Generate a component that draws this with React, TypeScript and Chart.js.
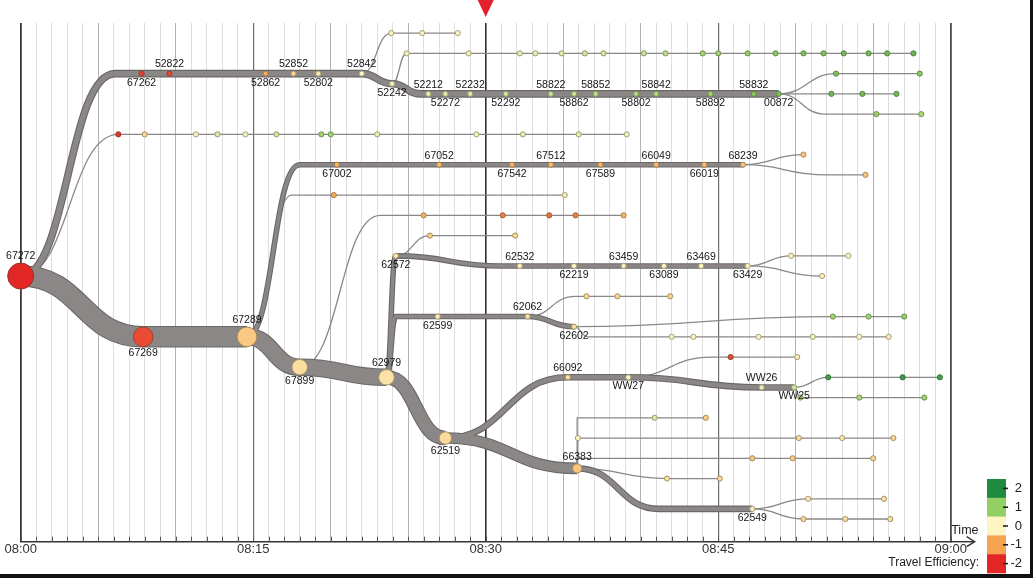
import React, { useEffect, useRef } from "react";
import { Chart, registerables } from "chart.js";

Chart.register(...registerables);

const FONT = '"Liberation Sans", Arial, Helvetica, sans-serif';

// ---------- axis / legend ----------
const TIME_TICK_LABELS = ["08:00", "08:15", "08:30", "08:45", "09:00"];
const TIME_MIN = 0; // minutes after 08:00
const TIME_MAX = 60;
const LANE_MIN = 0;
const LANE_MAX = 51.24;
const CURRENT_TIME = 30;
const AXIS_TITLE = "Time";
const LEGEND_TITLE = "Travel Efficiency:";
const EFFICIENCY_LEVELS = [2, 1, 0, -1, -2];
const EFFICIENCY_COLORS = ["#1f8b3f", "#93cf63", "#fdf5c2", "#f6a44f", "#e32727"];

// stop = [time (min after 08:00), lane, efficiency (null = bend, no stop), label]
type Stop = [number, number, number | null, string?];

const ROOT: Stop = [0, 25, -2, "67272"];

// ---------- main trunk ----------
const TRUNK_1: Stop[] = [[0, 25, null], [7.9, 31, -1.7, "67269"], [14.6, 31, -0.55, "67289"]];
const TRUNK_2: Stop[] = [[14.6, 31, null], [18.0, 34, -0.3, "67899"], [23.6, 35, -0.25, "62979"]];
const TRUNK_3: Stop[] = [[23.6, 35, null], [27.4, 41, -0.35, "62519"]];
const TRUNK_4: Stop[] = [[27.4, 41, null], [35.9, 44, -0.6, "66383"]];
const TRUNK_5: Stop[] = [[35.9, 44, null], [41.2, 48, null], [47.2, 48, -0.1, "62549"]];

// ---------- branch from 62519 (WW line) ----------
const WW_LINE: Stop[] = [[27.4, 41, null], [35.3, 35, -0.3, "66092"], [39.2, 35, 0, "WW27"], [47.8, 36, 0.2, "WW26"], [49.9, 36, 0.4, "WW25"]];
const WW25_UP: Stop[] = [[49.9, 36, null], [52.1, 35, 1.7], [56.9, 35, 1.8], [59.3, 35, 1.7]];
const WW25_FLAT: Stop[] = [[49.9, 36, null], [50.3, 37, 0.7], [54.1, 37, 0.8], [58.3, 37, 0.9]];
const WW27_UP: Stop[] = [[39.2, 35, null], [44.6, 33, null], [45.8, 33, -1.7], [50.1, 33, -0.1]];

// ---------- forks at 66383 / 62549 ----------
const FORK_A: Stop[] = [[35.9, 44, null], [35.9, 39, null], [40.9, 39, 0.3], [44.2, 39, -0.5]];
const FORK_B: Stop[] = [[35.9, 44, null], [35.95, 41, 0.0], [50.2, 41, -0.3], [53.0, 41, -0.2], [56.3, 41, -0.4]];
const FORK_C: Stop[] = [[35.9, 44, null], [35.9, 43, null], [47.2, 43, -0.6], [49.8, 43, -0.5], [55.0, 43, -0.4]];
const FORK_D: Stop[] = [[35.9, 44, null], [41.7, 45, -0.3], [45.1, 45, -0.4]];
const FORK_62549_UP: Stop[] = [[47.2, 48, null], [50.8, 47, -0.2], [55.7, 47, -0.3]];
const FORK_62549_DOWN: Stop[] = [[47.2, 48, null], [50.5, 49, -0.4], [53.2, 49, -0.3], [56.1, 49, -0.3]];

// ---------- branches from 62979 ----------
const L62572: Stop[] = [[23.6, 35, null], [24.2, 23, -0.15, "62572"], [31.0, 24, null], [32.2, 24, -0.1, "62532"], [35.7, 24, -0.05, "62219"], [38.9, 24, -0.1, "63459"], [41.5, 24, -0.05, "63089"], [43.9, 24, 0, "63469"], [46.9, 24, -0.05, "63429"]];
const P63429_UP: Stop[] = [[46.9, 24, null], [49.7, 23, -0.05], [53.4, 23, 0.05]];
const P63429_DOWN: Stop[] = [[46.9, 24, null], [51.7, 25, -0.1]];
const P62572_UP: Stop[] = [[24.2, 23, null], [26.4, 21, -0.5], [31.9, 21, -0.4]];
const L62599: Stop[] = [[23.6, 35, null], [24.2, 29, null], [26.9, 29, -0.1, "62599"], [32.7, 29, -0.25, "62062"], [35.7, 30, -0.3, "62602"]];
const P62062_UP: Stop[] = [[32.7, 29, null], [35.8, 27, null], [36.5, 27, -0.4], [38.5, 27, -0.4], [41.9, 27, -0.45]];
const P62602_A: Stop[] = [[35.7, 30, null], [52.4, 29, 0.9], [54.7, 29, 0.9], [57.0, 29, 1.0]];
const P62602_B: Stop[] = [[35.7, 30, null], [36.6, 31, null], [42.0, 31, 0.1], [43.4, 31, 0.0], [47.6, 31, 0.05], [51.1, 31, 0.1], [54.1, 31, 0.0], [56.0, 31, -0.1]];

// ---------- branches from 67899 / 67289 ----------
const P67899_UP: Stop[] = [[18.0, 34, null], [23.2, 19, null], [26.0, 19, -0.8], [31.1, 19, -1.3], [34.1, 19, -1.4], [35.8, 19, -1.3], [38.9, 19, -0.8]];
const L67002: Stop[] = [[14.6, 31, null], [18.0, 14, null], [20.4, 14, -0.8, "67002"], [27.0, 14, -0.7, "67052"], [31.7, 14, -0.8, "67542"], [34.2, 14, -0.7, "67512"], [37.4, 14, -0.8, "67589"], [41.0, 14, -0.7, "66049"], [44.1, 14, -0.7, "66019"], [46.6, 14, -0.6, "68239"]];
const P68239_UP: Stop[] = [[46.6, 14, null], [50.5, 13, -0.6]];
const P68239_DOWN: Stop[] = [[46.6, 14, null], [52.0, 15, null], [54.5, 15, -0.6]];
const P67289_THIN: Stop[] = [[14.6, 31, null], [17.5, 17, null], [20.2, 17, -0.9], [35.1, 17, -0.1]];

// ---------- branches from root ----------
const L52: Stop[] = [[0, 25, null], [6.1, 5, null], [7.8, 5, -1.8, "67262"], [9.6, 5, -1.75, "52822"], [15.8, 5, -0.9, "52862"], [17.6, 5, -0.4, "52852"], [19.2, 5, -0.15, "52802"], [22.0, 5, 0, "52842"], [23.96, 6, 0.1, "52242"], [25.8, 7, null], [26.3, 7, 0.2, "52212"], [27.4, 7, 0.3, "52272"], [29.0, 7, 0.3, "52232"], [31.3, 7, 0.4, "52292"], [34.2, 7, 0.5, "58822"], [35.7, 7, 0.5, "58862"], [37.1, 7, 0.6, "58852"], [39.7, 7, 0.7, "58802"], [41.0, 7, 0.7, "58842"], [44.5, 7, 0.9, "58892"], [47.3, 7, 1.1, "58832"], [48.9, 7, 1.2, "00872"]];
const P00872_UP: Stop[] = [[48.9, 7, null], [52.6, 5, 1.2], [58.0, 5, 1.1]];
const P00872_MID: Stop[] = [[48.9, 7, null], [52.3, 7, 1.3], [54.3, 7, 1.3], [56.5, 7, 1.3]];
const P00872_DOWN: Stop[] = [[48.9, 7, null], [51.9, 9, null], [55.2, 9, 0.9], [58.1, 9, 0.8]];
const P52842_UP: Stop[] = [[22.0, 5, null], [23.9, 1, 0.05], [25.9, 1, 0.05], [28.2, 1, 0.0]];
const P52242_UP: Stop[] = [[23.96, 6, null], [24.9, 3, 0.1], [28.9, 3, 0.1], [32.2, 3, 0.2], [33.2, 3, 0.2], [34.9, 3, 0.3], [36.4, 3, 0.4], [37.6, 3, 0.4], [40.2, 3, 0.5], [41.6, 3, 0.6], [44.0, 3, 0.9], [45.0, 3, 0.9], [46.9, 3, 1.0], [48.7, 3, 1.1], [50.5, 3, 1.2], [51.8, 3, 1.2], [53.1, 3, 1.3], [54.7, 3, 1.3], [55.9, 3, 1.3], [57.6, 3, 1.4]];
const P_ROOT_THIN: Stop[] = [[0, 25, null], [6.3, 11, -1.9], [8.0, 11, -0.4], [11.3, 11, 0.05], [12.7, 11, 0.3], [14.5, 11, 0.1], [16.5, 11, 0.4], [19.4, 11, 0.9], [20.0, 11, 0.9], [23.0, 11, 0.2], [29.4, 11, 0.1], [32.4, 11, 0.2], [36.0, 11, 0.2], [39.1, 11, 0.1]];

const THIN = 1.3;
const BRANCHES: { stops: Stop[]; flow: number; firstAbove: boolean }[] = [
  { stops: TRUNK_1, flow: 20, firstAbove: false },
  { stops: TRUNK_2, flow: 16, firstAbove: false },
  { stops: TRUNK_3, flow: 13, firstAbove: false },
  { stops: TRUNK_4, flow: 10, firstAbove: true },
  { stops: TRUNK_5, flow: 5, firstAbove: false },
  { stops: WW_LINE, flow: 5, firstAbove: true },
  { stops: L52, flow: 6, firstAbove: false },
  { stops: L67002, flow: 4, firstAbove: false },
  { stops: L62572, flow: 4, firstAbove: false },
  { stops: L62599, flow: 4, firstAbove: false },
  { stops: WW25_UP, flow: THIN, firstAbove: true },
  { stops: WW25_FLAT, flow: THIN, firstAbove: true },
  { stops: WW27_UP, flow: THIN, firstAbove: true },
  { stops: FORK_A, flow: THIN, firstAbove: true },
  { stops: FORK_B, flow: THIN, firstAbove: true },
  { stops: FORK_C, flow: THIN, firstAbove: true },
  { stops: FORK_D, flow: THIN, firstAbove: true },
  { stops: FORK_62549_UP, flow: THIN, firstAbove: true },
  { stops: FORK_62549_DOWN, flow: THIN, firstAbove: true },
  { stops: P63429_UP, flow: THIN, firstAbove: true },
  { stops: P63429_DOWN, flow: THIN, firstAbove: true },
  { stops: P62572_UP, flow: THIN, firstAbove: true },
  { stops: P62062_UP, flow: THIN, firstAbove: true },
  { stops: P62602_A, flow: THIN, firstAbove: true },
  { stops: P62602_B, flow: THIN, firstAbove: true },
  { stops: P67899_UP, flow: THIN, firstAbove: true },
  { stops: P68239_UP, flow: THIN, firstAbove: true },
  { stops: P68239_DOWN, flow: THIN, firstAbove: true },
  { stops: P67289_THIN, flow: THIN, firstAbove: true },
  { stops: P00872_UP, flow: THIN, firstAbove: true },
  { stops: P00872_MID, flow: THIN, firstAbove: true },
  { stops: P00872_DOWN, flow: THIN, firstAbove: true },
  { stops: P52842_UP, flow: THIN, firstAbove: true },
  { stops: P52242_UP, flow: THIN, firstAbove: true },
  { stops: P_ROOT_THIN, flow: THIN, firstAbove: true },
];

// ---------- helpers ----------
function hexToRgb(h: string): number[] {
  const n = parseInt(h.slice(1), 16);
  return [(n >> 16) & 255, (n >> 8) & 255, n & 255];
}
function effRgb(v: number): number[] {
  const pos = Math.min(EFFICIENCY_LEVELS.length - 1, Math.max(0, EFFICIENCY_LEVELS[0] - v));
  const i = Math.min(EFFICIENCY_LEVELS.length - 2, Math.floor(pos));
  const f = pos - i;
  const a = hexToRgb(EFFICIENCY_COLORS[i]);
  const b = hexToRgb(EFFICIENCY_COLORS[i + 1]);
  return a.map((c, k) => Math.round(c + (b[k] - c) * f));
}
const rgbStr = (c: number[]) => `rgb(${c[0]},${c[1]},${c[2]})`;
const darker = (c: number[]) => [58, 58, 44].map((d, k) => Math.round(c[k] * 0.55 + d * 0.45));
const radiusFor = (flow: number) => Math.max(2.6, 2.6 + (flow - 6) * 0.52);

type NodeItem = { x: number; y: number; eff: number; label?: string; r: number; side: number };
const ROOT_FLOW = BRANCHES.filter((b) => b.stops[0][0] === ROOT[0] && b.stops[0][1] === ROOT[1] && b.flow > THIN).reduce((s, b) => s + b.flow, 0);
const NODES: NodeItem[] = [
  { x: ROOT[0], y: ROOT[1], eff: ROOT[2] as number, label: ROOT[3], r: radiusFor(ROOT_FLOW), side: -1 },
];
BRANCHES.forEach((b) => {
  let k = 0;
  b.stops.forEach((s, i) => {
    if (i === 0 || s[2] === null) return;
    let side = 0;
    if (s[3]) {
      const above = (k % 2 === 0) === b.firstAbove;
      side = above ? -1 : 1;
      k++;
    }
    NODES.push({ x: s[0], y: s[1], eff: s[2] as number, label: s[3], r: radiusFor(b.flow), side });
  });
});

function buildPath(chart: any, stops: Stop[]): Path2D {
  const xs = chart.scales.x;
  const ys = chart.scales.y;
  const pts = stops.map((s) => [xs.getPixelForValue(s[0]), ys.getPixelForValue(s[1])]);
  const p = new Path2D();
  p.moveTo(pts[0][0], pts[0][1]);
  for (let i = 1; i < pts.length; i++) {
    const [x0, y0] = pts[i - 1];
    const [x1, y1] = pts[i];
    if (Math.abs(y1 - y0) < 0.3) p.lineTo(x1, y1);
    else {
      const mx = (x0 + x1) / 2;
      p.bezierCurveTo(mx, y0, mx, y1, x1, y1);
    }
  }
  return p;
}

const flowPlugin = {
  id: "flows",
  beforeDatasetsDraw(chart: any) {
    const { ctx } = chart;
    ctx.save();
    ctx.lineJoin = "round";
    ctx.lineCap = "butt";
    const thin = BRANCHES.filter((b) => b.flow < 3);
    const thick = BRANCHES.filter((b) => b.flow >= 3);
    thin.forEach((b) => {
      ctx.strokeStyle = "#8a8787";
      ctx.lineWidth = b.flow;
      ctx.stroke(buildPath(chart, b.stops));
    });
    thick.forEach((b) => {
      ctx.strokeStyle = "#6c6767";
      ctx.lineWidth = b.flow + 1.6;
      ctx.stroke(buildPath(chart, b.stops));
    });
    thick.forEach((b) => {
      ctx.strokeStyle = "#8c8787";
      ctx.lineWidth = Math.max(1, b.flow - 0.6);
      ctx.stroke(buildPath(chart, b.stops));
    });
    ctx.restore();
  },
};

const labelPlugin = {
  id: "nodeLabels",
  afterDatasetsDraw(chart: any) {
    const { ctx } = chart;
    const xs = chart.scales.x;
    const ys = chart.scales.y;
    ctx.save();
    ctx.font = `10.5px ${FONT}`;
    ctx.fillStyle = "#151515";
    ctx.textAlign = "center";
    ctx.textBaseline = "middle";
    NODES.forEach((n) => {
      if (!n.label) return;
      const px = xs.getPixelForValue(n.x);
      const py = ys.getPixelForValue(n.y);
      ctx.fillText(n.label, px, py + n.side * (n.r + 6.5));
    });
    ctx.restore();
  },
};

const decorPlugin = {
  id: "decor",
  afterDraw(chart: any) {
    const { ctx, chartArea: ca, width, height } = chart;
    const xs = chart.scales.x;
    ctx.save();
    // minute tick marks above axis
    ctx.strokeStyle = "#555";
    ctx.lineWidth = 1;
    for (let t = TIME_MIN; t <= TIME_MAX; t++) {
      const px = Math.round(xs.getPixelForValue(t)) + 0.5;
      ctx.beginPath();
      ctx.moveTo(px, ca.bottom - 5);
      ctx.lineTo(px, ca.bottom);
      ctx.stroke();
    }
    // axis arrow
    ctx.strokeStyle = "#333";
    ctx.lineWidth = 1.4;
    ctx.beginPath();
    ctx.moveTo(ca.right, ca.bottom);
    ctx.lineTo(ca.right + 24, ca.bottom);
    ctx.stroke();
    ctx.beginPath();
    ctx.moveTo(ca.right + 16, ca.bottom - 5);
    ctx.lineTo(ca.right + 24, ca.bottom);
    ctx.lineTo(ca.right + 16, ca.bottom + 5);
    ctx.stroke();
    ctx.fillStyle = "#222";
    ctx.font = `12.5px ${FONT}`;
    ctx.textAlign = "left";
    ctx.textBaseline = "middle";
    ctx.fillText(AXIS_TITLE, ca.right + 0.5, ca.bottom - 11.5);
    // current time marker
    const cx = xs.getPixelForValue(CURRENT_TIME);
    ctx.fillStyle = "#e3202b";
    ctx.beginPath();
    ctx.moveTo(cx - 8, 0);
    ctx.lineTo(cx + 8, 0);
    ctx.lineTo(cx, 17);
    ctx.closePath();
    ctx.fill();
    // legend
    const lx = width - 46;
    const lh = 18.8;
    const ly = height - 5 - lh * EFFICIENCY_LEVELS.length;
    EFFICIENCY_LEVELS.forEach((lev, i) => {
      ctx.fillStyle = EFFICIENCY_COLORS[i];
      ctx.fillRect(lx, ly + i * lh, 19, lh + 0.3);
    });
    ctx.fillStyle = "#222";
    ctx.font = `13px ${FONT}`;
    ctx.textAlign = "right";
    EFFICIENCY_LEVELS.forEach((lev, i) => {
      const cy = ly + i * lh + lh / 2;
      ctx.fillRect(lx + 16, cy - 0.8, 5, 1.6);
      ctx.fillText(String(lev), lx + 35, cy);
    });
    ctx.font = `12px ${FONT}`;
    ctx.fillText(LEGEND_TITLE, lx - 8, height - 15);
    // frame
    ctx.fillStyle = "#111";
    ctx.fillRect(0, height - 4, width, 4);
    ctx.fillRect(width - 3, 0, 3, height);
    ctx.restore();
  },
};

export default function App() {
  const ref = useRef<HTMLCanvasElement>(null);
  useEffect(() => {
    const canvas = ref.current;
    if (!canvas) return;
    const chart = new Chart(canvas, {
      type: "scatter",
      data: {
        datasets: [
          {
            data: NODES.map((n) => ({ x: n.x, y: n.y })),
            pointRadius: NODES.map((n) => n.r),
            pointHoverRadius: NODES.map((n) => n.r),
            pointBackgroundColor: NODES.map((n) => rgbStr(effRgb(n.eff))),
            pointBorderColor: NODES.map((n) => rgbStr(darker(effRgb(n.eff)))),
            pointBorderWidth: 1,
            clip: false as any,
          },
        ],
      },
      options: {
        responsive: false,
        animation: false,
        devicePixelRatio: 1,
        events: [],
        layout: { padding: { left: 20.7, right: 82.3, top: 23, bottom: 0 } },
        plugins: { legend: { display: false }, tooltip: { enabled: false } },
        scales: {
          x: {
            type: "linear",
            min: TIME_MIN,
            max: TIME_MAX,
            afterFit: (s: any) => {
              s.height = 36.3;
            },
            ticks: {
              stepSize: 1,
              autoSkip: false,
              maxRotation: 0,
              padding: 0,
              color: "#333",
              font: { family: FONT, size: 13 },
              callback: (v: any) => {
                const n = Number(v);
                return n % 15 === 0 ? TIME_TICK_LABELS[n / 15] : "";
              },
            },
            grid: {
              drawTicks: false,
              color: (c: any) => {
                const v = c.tick ? c.tick.value : 1;
                if (v === 0) return "#3a3a3a";
                if (v === 60) return "#4a4a4a";
                if (v === 30) return "#2e2e2e";
                if (v % 15 === 0) return "#6e6e6e";
                if (v % 5 === 0) return "#b2b2b2";
                return "#dedede";
              },
              lineWidth: (c: any) => {
                const v = c.tick ? c.tick.value : 1;
                if (v === 0 || v === 60) return 1.8;
                if (v === 30) return 1.6;
                if (v % 15 === 0) return 1.2;
                return 1;
              },
            },
            border: { display: true, color: "#333", width: 1.5 },
          },
          y: { type: "linear", min: LANE_MIN, max: LANE_MAX, reverse: true, display: false },
        },
      },
      plugins: [flowPlugin, labelPlugin, decorPlugin],
    } as any);
    return () => chart.destroy();
  }, []);
  return (
    <div style={{ position: "absolute", left: 0, top: 0, width: 1033, height: 578, background: "#fff", overflow: "hidden" }}>
      <canvas ref={ref} width={1033} height={578} style={{ display: "block", width: 1033, height: 578 }} />
    </div>
  );
}
